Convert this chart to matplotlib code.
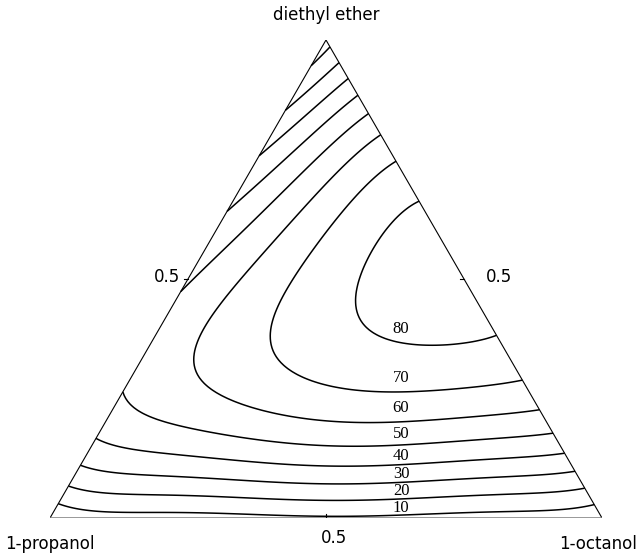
import numpy as np
import matplotlib
matplotlib.use("Agg")
import matplotlib.pyplot as plt
import matplotlib.tri as mtri

# Mixture components at the corners: bottom-left, bottom-right, top
components = ["1-propanol", "1-octanol", "diethyl ether"]
levels = [10, 20, 30, 40, 50, 60, 70, 80]
edge_tick_label = "0.5"

# Response surface: sum of coef * x_oct**i * x_eth**j  (x_prop = 1 - x_oct - x_eth)
exp_oct = [0, 0, 0, 0, 0, 0, 0,
           1, 1, 1, 1, 1, 1,
           2, 2, 2, 2, 2,
           3, 3, 3, 3,
           4, 4, 4,
           5, 5,
           6]
exp_eth = [0, 1, 2, 3, 4, 5, 6,
           0, 1, 2, 3, 4, 5,
           0, 1, 2, 3, 4,
           0, 1, 2, 3,
           0, 1, 2,
           0, 1,
           0]
coef = [0.991, 312.983, -373.908, -1022.988, 3035.154, -2983.192, 1036.639,
        121.261, -764.985, 3901.865, -7849.428, 7689.925, -2862.464,
        -947.032, 4946.974, -12675.897, 16251.247, -7844.809,
        3455.601, -11805.920, 16663.029, -10082.843,
        -6143.100, 12050.063, -7371.758,
        5192.987, -4542.804,
        -1678.777]

S3 = np.sqrt(3) / 2


def response(x_oct, x_eth):
    x_oct = np.asarray(x_oct, float)
    x_eth = np.asarray(x_eth, float)
    z = np.zeros(np.broadcast(x_oct, x_eth).shape)
    for i, j, c in zip(exp_oct, exp_eth, coef):
        z = z + c * x_oct**i * x_eth**j
    return z


# Barycentric lattice covering the triangle
n = 160
lat_oct, lat_eth = [], []
for i in range(n + 1):
    for j in range(n + 1 - i):
        lat_oct.append(i / n)
        lat_eth.append(j / n)
lat_oct = np.array(lat_oct)
lat_eth = np.array(lat_eth)
X = lat_oct + lat_eth / 2
Y = lat_eth * S3
Z = response(lat_oct, lat_eth)
tri = mtri.Triangulation(X, Y)

W, H = 643, 557
fig = plt.figure(figsize=(W / 100, H / 100), dpi=100)
ax = fig.add_axes([50 / W, 39 / H, 552 / W, 478 / H])
ax.set_xlim(0, 1)
ax.set_ylim(0, S3)
ax.axis('off')

ax.tricontour(tri, Z, levels=levels, colors='k', linewidths=1.1)

# Triangle frame
ax.plot([0, 0.5, 1], [0, S3, 0], color='k', lw=0.8, solid_joinstyle='miter')
ax.plot([0, 1], [0, 0], color='#7a7a7a', lw=1.8)

# Small ticks at the middle of each edge
tl = 4 / 552
ax.plot([0.25, 0.25 - tl], [S3 / 2, S3 / 2], color='k', lw=0.8)
ax.plot([0.75, 0.75 - tl], [S3 / 2, S3 / 2], color='k', lw=0.8)
ax.plot([0.5, 0.5], [0, tl], color='k', lw=0.8)

# Contour labels stacked along one vertical column
col_x = 351 / 552
ys = np.linspace(0, S3 * 0.95, 4000)
eth = ys / S3
vals = response(col_x - eth / 2, eth)
cross = {}
for lev in levels:
    k = np.argmax(vals >= lev)
    y0, y1 = ys[k - 1], ys[k]
    v0, v1 = vals[k - 1], vals[k]
    cross[lev] = y0 + (lev - v0) / (v1 - v0) * (y1 - y0)
px_per_unit = 552
for idx, lev in enumerate(levels):
    if idx + 1 < len(levels):
        gap = (cross[levels[idx + 1]] - cross[lev]) * px_per_unit
    else:
        gap = 100
    off_px = min(14, 0.46 * gap)
    ax.annotate(str(lev), xy=(col_x, cross[lev]), xytext=(0, off_px * 0.72),
                textcoords='offset points', ha='center', va='center',
                fontsize=12, family=['Liberation Serif', 'DejaVu Serif'])

# Corner and edge text
sans = ['DejaVu Sans']
fig.text(326 / W, 1 - 20 / H, components[2], ha='center', va='baseline', fontsize=12, family=sans)
fig.text(50 / W, 1 - 549 / H, components[0], ha='center', va='baseline', fontsize=12, family=sans)
fig.text(598 / W, 1 - 549 / H, components[1], ha='center', va='baseline', fontsize=12, family=sans)
fig.text(167 / W, 1 - 282 / H, edge_tick_label, ha='center', va='baseline', fontsize=12, family=sans)
fig.text(499 / W, 1 - 282 / H, edge_tick_label, ha='center', va='baseline', fontsize=12, family=sans)
fig.text(334 / W, 1 - 543 / H, edge_tick_label, ha='center', va='baseline', fontsize=12, family=sans)

fig.savefig('out.png', dpi=100)
